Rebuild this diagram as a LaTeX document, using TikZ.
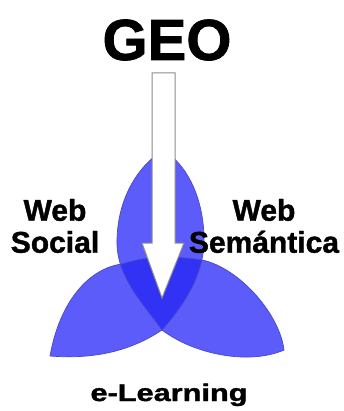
\documentclass[tikz,border=0pt]{standalone}
\usepackage{fontspec}
\setmainfont[BoldFeatures={FakeBold=1.3}]{Liberation Sans}
\definecolor{petalLight}{RGB}{92,92,250}
\definecolor{petalDark}{RGB}{50,50,245}
\definecolor{petalEdge}{RGB}{72,72,205}
\newcommand\sidepetals{(162,330) .. controls (135,348) and (100,360) .. (50,356)
  .. controls (60,300) and (90,268) .. (122,264)
  .. controls (135,260) and (150,257) .. (162,257)
  .. controls (175,257) and (190,258) .. (202,260)
  .. controls (240,268) and (280,315) .. (284,350)
  .. controls (250,365) and (195,355) .. (162,330) -- cycle}
\newcommand\toppetal{(162,330) .. controls (140,300) and (116,275) .. (117,240)
  .. controls (118,195) and (140,165) .. (163,150)
  .. controls (188,165) and (204,200) .. (204,240)
  .. controls (204,275) and (184,305) .. (162,330) -- cycle}

\begin{document}
\begin{tikzpicture}[x=1pt, y=-1pt,
  lbl/.style={font=\bfseries\fontsize{30}{32}\selectfont, inner sep=0pt, align=center},
  ttl/.style={font=\bfseries\fontsize{58}{60}\selectfont, inner sep=0pt},
  edge/.style={draw=petalEdge, line width=0.7pt},
  blk/.style={fill=white, draw=black!45, line width=1pt, line join=miter}
]
\useasboundingbox (0,0) rectangle (344,411);
\coordinate (top) at (163,73);
\coordinate (tip) at (162,298);

% petals and their overlap
\fill[petalLight] \sidepetals;
\fill[petalLight] \toppetal;
\begin{scope}
  \clip \toppetal;
  \fill[petalDark] \sidepetals;
\end{scope}
\draw[edge] \sidepetals;
\draw[edge] \toppetal;

\draw[blk] (top) ++(-11,0) -- ++(23,0) -- ++(0,170) -- ++(9,0) -- (tip)
  -- ++(-20,-55) -- ++(10,0) -- cycle;

\node[ttl, anchor=base] (geo) at (167,60) {GEO};
\node[lbl] (social) at (55,226) {Web\\Social};
\node[lbl] (sem) at (264,226) {Web\\Semántica};
\node[lbl, anchor=base, font=\bfseries\fontsize{24}{26}\selectfont, xscale=1.28]
  (elearn) at (169,401) {e-Learning};
\end{tikzpicture}
\end{document}
